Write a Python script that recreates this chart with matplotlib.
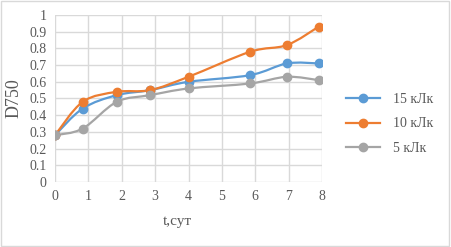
import numpy as np
import matplotlib
matplotlib.use("Agg")
import matplotlib.pyplot as plt
from matplotlib.path import Path
from matplotlib.patches import PathPatch, Rectangle

plt.rcParams['font.family'] = ['Liberation Serif', 'DejaVu Serif']

# data
t = [0, 0.83, 1.85, 2.85, 4.0, 5.85, 6.95, 7.9]
d15 = [0.28, 0.44, 0.52, 0.55, 0.60, 0.64, 0.71, 0.71]
d10 = [0.28, 0.48, 0.54, 0.55, 0.63, 0.78, 0.82, 0.93]
d5 = [0.28, 0.32, 0.48, 0.52, 0.56, 0.59, 0.63, 0.61]
labels = ["15 кЛк", "10 кЛк", "5 кЛк"]
colors = ["#5B9BD5", "#ED7D31", "#A5A5A5"]


def smooth_path(x, y):
    # Excel-like smoothed line: cubic Bezier with Catmull-Rom control points
    x = np.asarray(x, float)
    y = np.asarray(y, float)
    n = len(x)
    verts = [(x[0], y[0])]
    codes = [Path.MOVETO]
    for i in range(n - 1):
        p0 = np.array([x[max(i - 1, 0)], y[max(i - 1, 0)]])
        p1 = np.array([x[i], y[i]])
        p2 = np.array([x[i + 1], y[i + 1]])
        p3 = np.array([x[min(i + 2, n - 1)], y[min(i + 2, n - 1)]])
        c1 = p1 + (p2 - p0) / 6
        c2 = p2 - (p3 - p1) / 6
        verts += [tuple(c1), tuple(c2), tuple(p2)]
        codes += [Path.CURVE4] * 3
    return Path(verts, codes)


fig = plt.figure(figsize=(4.51, 2.47), dpi=100)
ax = fig.add_axes([55 / 451, 1 - 182 / 247, 267 / 451, 167 / 247])

for ys, lab, c in zip([d15, d10, d5], labels, colors):
    ax.add_patch(PathPatch(smooth_path(t, ys), fill=False, edgecolor=c, lw=1.6, zorder=3))
    ax.plot(t, ys, 'o', color=c, ms=6, zorder=4)
    ax.plot([], [], '-o', color=c, lw=1.6, ms=6, label=lab)

ax.set_xlim(0, 8)
ax.set_ylim(0, 1)
ax.set_xticks(range(9))
ax.set_yticks(np.arange(0, 1.01, 0.1))
ax.set_yticklabels(["0", "0.1", "0.2", "0.3", "0.4", "0.5", "0.6", "0.7", "0.8", "0.9", "1"])
ax.grid(True, color="#d9d9d9", lw=1)
ax.set_axisbelow(True)
for s in ax.spines.values():
    s.set_visible(False)
ax.tick_params(length=0, labelsize=10, colors="#595959", pad=6)
ax.set_xlabel("t,сут", fontsize=11, color="#595959", labelpad=8)
ax.xaxis.set_label_coords(0.46, -0.2)
ax.set_ylabel("D750", fontsize=13, color="#595959", labelpad=5)

leg = ax.legend(loc="center left", bbox_to_anchor=(333 / 451, 1 - 124 / 247),
                bbox_transform=fig.transFigure, frameon=False, fontsize=10,
                labelcolor="#595959", handlelength=2.5, handletextpad=0.9,
                labelspacing=0.85)

fig.patches.append(Rectangle((0.002, 0.004), 0.994, 0.99, transform=fig.transFigure,
                             fill=False, edgecolor="#d9d9d9", lw=1))

fig.savefig("out.png", dpi=100)
